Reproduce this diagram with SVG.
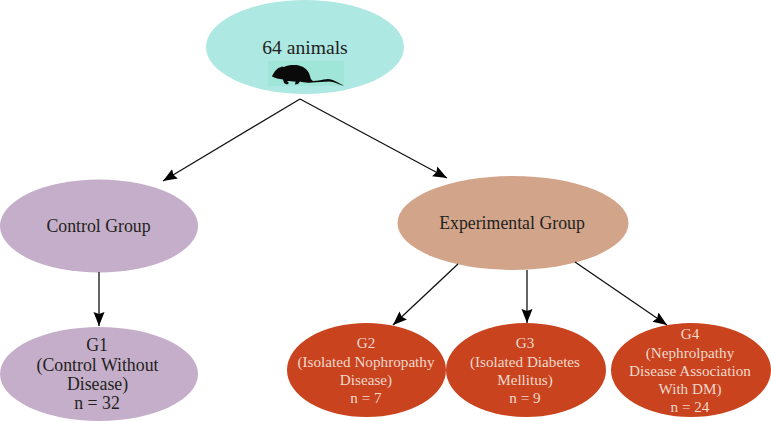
<svg xmlns="http://www.w3.org/2000/svg" width="771" height="421" viewBox="0 0 771 421">
<style>
text{font-family:"Liberation Serif",serif;font-size:17.8px;text-anchor:middle;fill:#231f20}
.w text{fill:#f3d9cc;font-size:15.2px}
.c line{stroke:#111;stroke-width:1.3;marker-end:url(#a)}
</style>
<defs><marker id="a" markerUnits="userSpaceOnUse" markerWidth="15" markerHeight="12" refX="14" refY="6" orient="auto"><path d="M0 0.500L14 6L0 11.500L2 6z" fill="#000"/></marker></defs>
<rect width="771" height="421" fill="#fff"/>
<g id="root"><ellipse cx="305" cy="47" rx="99" ry="47" fill="#aee8e2"/>
<rect x="268" y="61" width="76" height="25" fill="#9fe5d8"/>
<!-- rat silhouette -->
<path d="M272 76.500C274 72 277 68 280 67.500L282 66.500L284 67C288 65 294 64.500 299 65.500C305 67 309 71 310 76C310.500 78 311 80 313 81C318 81 322 79.500 328 79C333 79 339 83 344 86C339 84.500 334 81.500 329 81.500C323 81.500 317 82.500 312 82.500C307 83 303 82.500 300 81.500L298 84L295 84.500L295.500 81.500C292 81.500 290 81 287 81L289 83L287 84.500L284 83L283 79.500C279 79 275 78 272 76.500Z" fill="#0a0a0a"/>
<text x="305" y="54" style="font-size:19.600px">64 animals</text></g>
<g id="control"><ellipse cx="99" cy="226" rx="99" ry="46.500" fill="#c5aec9"/><text x="98.500" y="232">Control Group</text></g>
<g id="experimental"><ellipse cx="513" cy="223" rx="115.500" ry="47" fill="#d2a58b"/><text x="512" y="229">Experimental Group</text></g>
<g id="g1"><ellipse cx="99" cy="374" rx="99" ry="47" fill="#c5aec9"/>
<text x="97" y="351">G1</text><text x="97.500" y="370.500">(Control Without</text><text x="97.500" y="390">Disease)</text><text x="97" y="409">n = 32</text></g>
<g id="g2" class="w"><ellipse cx="366.500" cy="370" rx="79.500" ry="47" fill="#c8431e"/>
<text x="366" y="348">G2</text><text x="366" y="367">(Isolated Nophropathy</text><text x="366" y="385">Disease)</text><text x="366" y="403">n = 7</text></g>
<g id="g3" class="w"><ellipse cx="526" cy="370" rx="80" ry="47" fill="#c8431e"/>
<text x="525" y="348">G3</text><text x="525" y="367">(Isolated Diabetes</text><text x="525" y="385">Mellitus)</text><text x="525" y="403">n = 9</text></g>
<g id="g4" class="w"><ellipse cx="691" cy="370" rx="80" ry="47" fill="#c8431e"/>
<text x="690" y="339">G4</text><text x="690" y="358">(Nephrolpathy</text><text x="690" y="376">Disease Association</text><text x="690" y="394">With DM)</text><text x="690" y="412">n = 24</text></g>
<g id="connectors" class="c">
<line x1="300" y1="99" x2="163" y2="181"/>
<line x1="300" y1="99" x2="447" y2="178"/>
<line x1="99" y1="272" x2="99" y2="326"/>
<line x1="458" y1="264" x2="393" y2="325"/>
<line x1="527" y1="270" x2="527" y2="323"/>
<line x1="575" y1="262" x2="667" y2="325"/>
</g>
</svg>
